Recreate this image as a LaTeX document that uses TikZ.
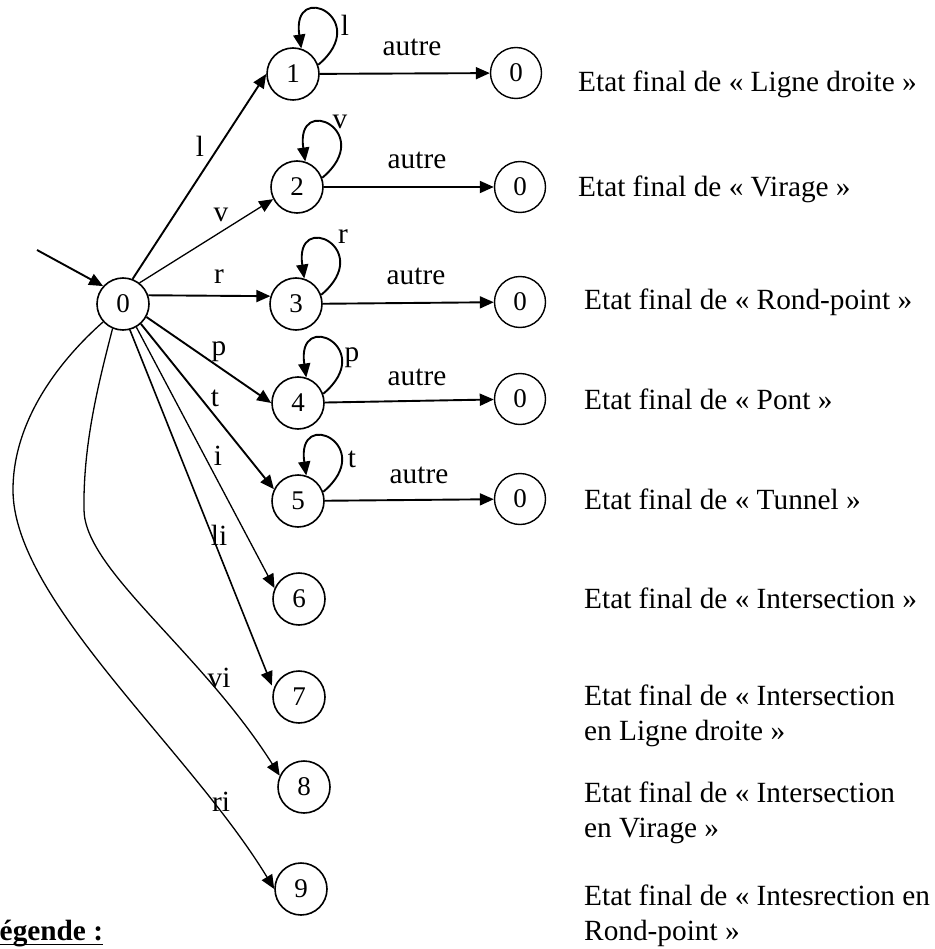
\documentclass[tikz,border=0pt]{standalone}
\usepackage{fontspec}
\setmainfont{Liberation Serif}
\usetikzlibrary{arrows.meta,calc}
\newcommand\txtsize{\fontsize{29.3}{34.5}\selectfont}
\newcommand\digsize{\fontsize{27}{30}\selectfont}
% self loop drawn on the upper right of a state
\newcommand\loopon[1]{\draw[arr,heavy] (#1.20) .. controls ($(#1)+(80,55)$) and ($(#1)+(-2,95)$) .. (#1.72);}
\begin{document}
\begin{tikzpicture}[x=1pt,y=1pt,
  state/.style={circle,draw,line width=1.6pt,minimum size=52pt,inner sep=0pt,font=\digsize},
  final/.style={circle,draw,line width=1.4pt,minimum size=51pt,inner sep=0pt,font=\digsize},
  arr/.style={-{Triangle[length=14pt,width=12pt]}},
  heavy/.style={line width=1.9pt},
  light/.style={line width=1.3pt},
  lab/.style={inner sep=0pt,font=\txtsize},
  note/.style={anchor=base west,inner sep=0pt,font=\txtsize,align=left}]
\fill[white] (0,0) rectangle (934,-949);
\useasboundingbox (0,0) rectangle (934,-949);

% states
\node[state] (n0) at (123,-304) {0};
\node[state] (n1) at (293,-74) {1};
\node[state] (n2) at (297,-187) {2};
\node[state] (n3) at (296,-304) {3};
\node[state] (n4) at (298,-403) {4};
\node[state] (n5) at (298,-501) {5};
\node[state] (n6) at (299,-599) {6};
\node[state] (n7) at (299,-697) {7};
\node[state] (n8) at (304,-787) {8};
\node[state] (n9) at (301,-889) {9};

% final states
\node[final] (f1) at (516,-73) {0};
\node[final] (f2) at (520,-187) {0};
\node[final] (f3) at (520,-302) {0};
\node[final] (f4) at (520,-399) {0};
\node[final] (f5) at (520,-499) {0};

% initial arrow
\coordinate (init) at (37,-250);
\draw[arr,heavy] (init) -- (n0.138);

% transitions from the start state
\draw[arr,heavy] (n0.69) -- (n1.west);
\draw[arr,light] (n0.52) -- (n2.207);
\draw[arr,heavy] (n0.19) -- (n3.163);
\draw[arr,heavy] (n0.-29) -- (n4.west);
\draw[arr,heavy] (n0.-48) -- (n5.154);
\draw[arr,light] (n0.-60) -- (n6.156);
\draw[arr,line width=1.6pt,shorten >=4pt] (n0.-75) -- (n7.163);
\draw[arr,light] (n0.-113) .. controls (98,-385) and (83,-445) .. (84,-510)
  .. controls (85,-570) and (200,-650) .. (n8.155);
\draw[arr,light] (n0.-138) .. controls (60,-360) and (13,-420) .. (13,-490)
  .. controls (13,-600) and (190,-750) .. (n9.west);

% self loops
\loopon{n1}
\loopon{n2}
\loopon{n3}
\loopon{n4}
\loopon{n5}

% transitions to the final states
\draw[arr,heavy] (n1) -- (f1);
\draw[arr,heavy] (n2) -- (f2);
\draw[arr,heavy] (n3) -- (f3);
\draw[arr,heavy] (n4) -- (f4);
\draw[arr,heavy] (n5) -- (f5);

% transition labels
\node[lab] (t-l) at (200,-146) {l};
\node[lab] (t-v) at (221,-215) {v};
\node[lab] (t-r) at (219,-277) {r};
\node[lab] (t-p) at (219,-352) {p};
\node[lab] (t-t) at (215,-398) {t};
\node[lab] (t-i) at (218,-456) {i};
\node[lab] (t-li) at (219,-535) {li};
\node[lab] (t-vi) at (219,-678) {vi};
\node[lab] (t-ri) at (221,-802) {ri};

\node[lab] (s-l) at (345,-25) {l};
\node[lab] (s-v) at (340,-122) {v};
\node[lab] (s-r) at (343,-237) {r};
\node[lab] (s-p) at (352,-358) {p};
\node[lab] (s-t) at (352,-459) {t};

\node[lab] (a1) at (412,-47) {autre};
\node[lab] (a2) at (417,-160) {autre};
\node[lab] (a3) at (416,-276) {autre};
\node[lab] (a4) at (417,-377) {autre};
\node[lab] (a5) at (419,-475) {autre};

% descriptions of the final states (base = last line)
\node[note] (d1) at (578,-92) {Etat final de « Ligne droite »};
\node[note] (d2) at (578,-197) {Etat final de « Virage »};
\node[note] (d3) at (584,-309) {Etat final de « Rond-point »};
\node[note] (d4) at (584,-409) {Etat final de « Pont »};
\node[note] (d5) at (584,-509) {Etat final de « Tunnel »};
\node[note] (d6) at (584,-608) {Etat final de « Intersection »};
\node[note] (d7) at (584,-740) {Etat final de « Intersection\\ en Ligne droite »};
\node[note] (d8) at (584,-837) {Etat final de « Intersection\\ en Virage »};
\node[note] (d9) at (584,-940) {Etat final de « Intesrection en\\Rond-point »};

% legend heading
\node[anchor=base west,inner sep=0pt,font=\txtsize\bfseries] (leg) at (-20,-940) {Légende :};
\draw[line width=1.8pt] ([yshift=-4.5pt]leg.base west) -- ([yshift=-4.5pt]leg.base east);
\end{tikzpicture}
\end{document}
